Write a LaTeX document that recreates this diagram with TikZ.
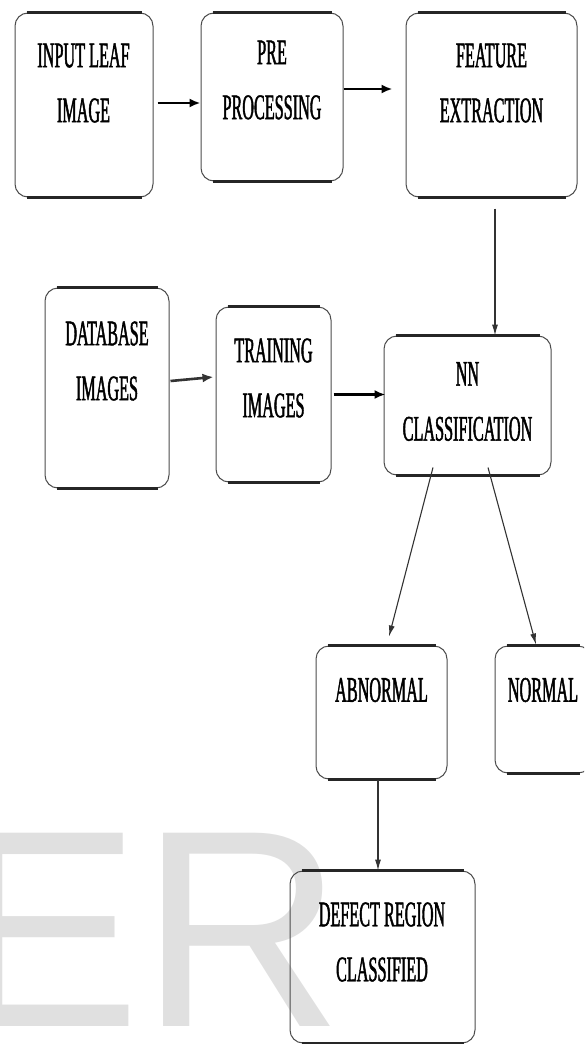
\documentclass[tikz,border=0pt]{standalone}
\usepackage{fontspec}
\setmainfont{Liberation Serif}[FakeStretch=0.45,FakeBold=1.2]
\newfontfamily\wmfont{Liberation Sans}
\usetikzlibrary{arrows.meta,positioning}
\definecolor{wmgray}{HTML}{E0E0E0}

\begin{document}
\begin{tikzpicture}[
		x=1pt, y=-1pt,
		box/.style={draw=black!70, line width=1pt, rounded corners=13pt, inner sep=0pt},
		edge/.style={black!85, line width=2.6pt},
		txt/.style={align=center, inner sep=0pt, font=\fontsize{36}{55}\selectfont},
		arr/.style={-{Latex[length=11pt,width=9pt]}, line width=2.2pt},
		thin/.style={-{Latex[length=11pt,width=6pt]}, line width=1.1pt, black!80},
	]
		\useasboundingbox (0,0) rectangle (584,1044);
		\clip (0,0) rectangle (584,1044);

		% watermark
		\node[anchor=base west, inner sep=0pt, text=wmgray, font=\wmfont\fontsize{281}{281}\selectfont] (wm) at (-47,1026) {ER};

		% boxes
		\node[box, minimum width=138pt, minimum height=184pt] (leaf) at (84,105) {};
		\node[box, minimum width=142pt, minimum height=168pt] (pre) at (272,97) {};
		\node[box, minimum width=171pt, minimum height=184pt] (feat) at (491.5,105) {};
		\node[box, minimum width=124pt, minimum height=200pt] (db) at (107,388) {};
		\node[box, minimum width=115pt, minimum height=175pt] (train) at (273.5,394.5) {};
		\node[box, minimum width=167pt, minimum height=139pt] (nn) at (467.5,405.5) {};
		\node[box, minimum width=131pt, minimum height=133pt] (abn) at (381.5,712.5) {};
		\node[box, minimum width=96pt, minimum height=127pt] (nor) at (543,709.5) {};
		\node[box, minimum width=185pt, minimum height=172pt] (defect) at (382.5,957) {};

		\foreach \n in {leaf,pre,feat,db,train,nn,abn,nor,defect}
			\draw[edge] ([xshift=12pt]\n.north west) -- ([xshift=-12pt]\n.north east)
				([xshift=12pt]\n.south west) -- ([xshift=-12pt]\n.south east);

		% labels
		\node[txt] (leaf-t) at (83.5,83) {INPUT LEAF\\IMAGE};
		\node[txt] (pre-t) at (272,80) {PRE\\PROCESSING};
		\node[txt] (feat-t) at (491.5,83) {FEATURE\\EXTRACTION};
		\node[txt] (db-t) at (107,361) {DATABASE\\IMAGES};
		\node[txt] (train-t) at (273.5,378) {TRAINING\\IMAGES};
		\node[txt] (nn-t) at (467.5,401.5) {NN\\CLASSIFICATION};
		\node[txt] (abn-t) at (381.5,690) {ABNORMAL};
		\node[txt] (nor-t) at (543,690) {NORMAL};
		\node[txt] (defect-t) at (382,942) {DEFECT REGION\\CLASSIFIED};

		% connectors
		\coordinate (p1) at ([xshift=4pt,yshift=2pt]leaf.east);
		\coordinate (p2) at ([yshift=8pt]pre.east);
		\draw[arr] (p1) -- (p1 -| pre.west);
		\draw[arr, shorten >=13pt] (p2) -- (p2 -| feat.west);
		\draw[thin, shorten <=11pt] ([xshift=3.5pt]feat.south) -- ([xshift=3.5pt]feat.south |- nn.north);
		\draw[arr, line width=2.6pt, black!80] ([xshift=1pt,yshift=7pt]db.east) -- ([xshift=-2pt,yshift=17.5pt]train.west);
		\draw[arr] ([xshift=2pt]train.east) -- ([xshift=2pt]train.east -| nn.west);
		\draw[thin] ([xshift=-34.5pt,yshift=8pt]nn.south) -- ([xshift=7.5pt,yshift=9pt]abn.north);
		\draw[thin] ([xshift=20.5pt,yshift=8pt]nn.south) -- ([xshift=-7pt,yshift=1pt]nor.north);
		\draw[thin] ([xshift=-3.5pt]abn.south) -- ([xshift=-3.5pt]abn.south |- defect.north);
	\end{tikzpicture}
\end{document}
